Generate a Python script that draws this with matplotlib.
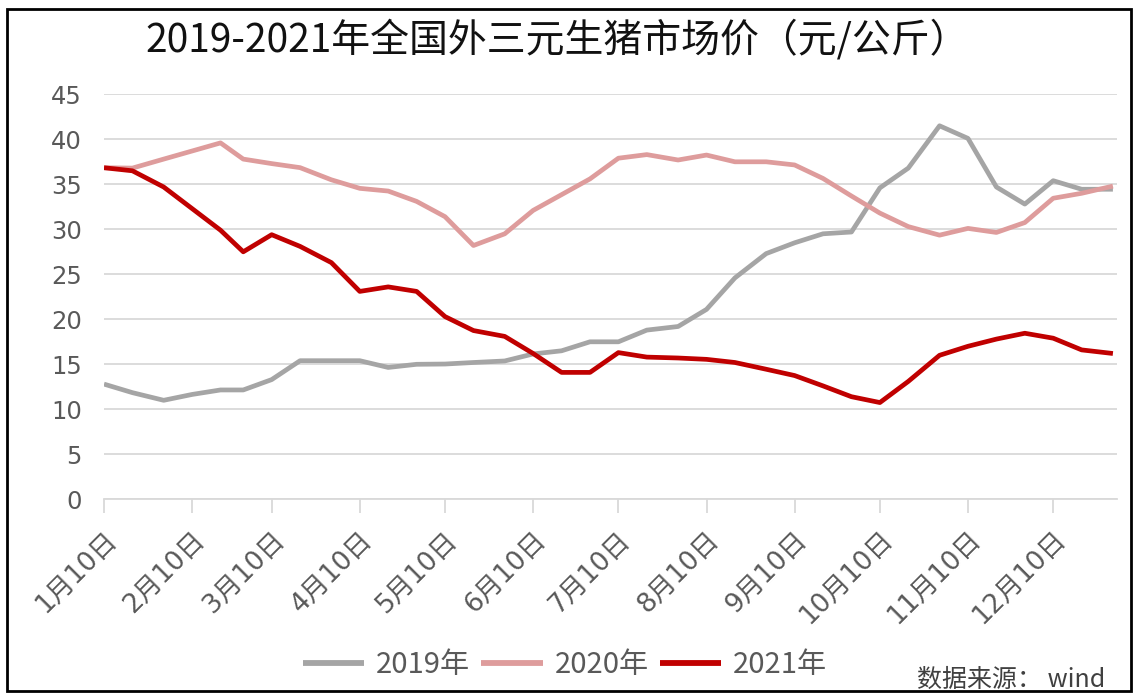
import matplotlib
matplotlib.use('Agg')
import matplotlib.pyplot as plt
from matplotlib.patches import Rectangle
import pandas as pd

# ---- data ----
dates = ["2021-01-10", "2021-01-20", "2021-01-31",
         "2021-02-10", "2021-02-20", "2021-02-28",
         "2021-03-10", "2021-03-20", "2021-03-31",
         "2021-04-10", "2021-04-20", "2021-04-30",
         "2021-05-10", "2021-05-20", "2021-05-31",
         "2021-06-10", "2021-06-20", "2021-06-30",
         "2021-07-10", "2021-07-20", "2021-07-31",
         "2021-08-10", "2021-08-20", "2021-08-31",
         "2021-09-10", "2021-09-20", "2021-09-30",
         "2021-10-10", "2021-10-20", "2021-10-31",
         "2021-11-10", "2021-11-20", "2021-11-30",
         "2021-12-10", "2021-12-20", "2021-12-31"]

price_2019 = [12.8, 11.85, 11.0, 11.65, 12.15, 12.15, 13.3, 15.4, 15.4,
              15.4, 14.65, 15.0, 15.03, 15.2, 15.37, 16.15, 16.5, 17.5,
              17.5, 18.8, 19.2, 21.1, 24.6, 27.3, 28.5, 29.5, 29.7,
              34.6, 36.8, 41.5, 40.1, 34.7, 32.8, 35.4, 34.45, 34.45]
price_2020 = [36.84, 36.8, 37.8, 38.7, 39.6, 37.8, 37.3, 36.85, 35.5,
              34.55, 34.25, 33.1, 31.4, 28.2, 29.5, 32.1, 33.85, 35.6,
              37.9, 38.3, 37.7, 38.25, 37.5, 37.5, 37.15, 35.65, 33.7,
              31.8, 30.3, 29.35, 30.1, 29.65, 30.75, 33.45, 34.0, 34.8]
price_2021 = [36.84, 36.5, 34.7, 32.3, 29.9, 27.5, 29.4, 28.1, 26.3,
              23.1, 23.6, 23.1, 20.3, 18.75, 18.1, 16.2, 14.1, 14.1,
              16.3, 15.8, 15.7, 15.55, 15.2, 14.45, 13.75, 12.6, 11.4,
              10.75, 13.1, 16.0, 17.0, 17.8, 18.45, 17.9, 16.6, 16.2]

series_names = ["2019年", "2020年", "2021年"]
tick_dates = ["2021-01-10", "2021-02-10", "2021-03-10", "2021-04-10",
              "2021-05-10", "2021-06-10", "2021-07-10", "2021-08-10",
              "2021-09-10", "2021-10-10", "2021-11-10", "2021-12-10"]
tick_labels = ["1月10日", "2月10日", "3月10日", "4月10日", "5月10日", "6月10日",
               "7月10日", "8月10日", "9月10日", "10月10日", "11月10日", "12月10日"]
y_ticks = [0, 5, 10, 15, 20, 25, 30, 35, 40, 45]

title = "2019-2021年全国外三元生猪市场价（元/公斤）"
source = "数据来源： wind"

# ---- style ----
CJK = ['Noto Sans CJK SC', 'DejaVu Sans']
LAT = ['DejaVu Sans', 'Noto Sans CJK SC']
colors = ["#A5A5A5", "#DE9C9C", "#C00000"]
W, H = 1135, 693

fig = plt.figure(figsize=(W / 100, H / 100), dpi=100)
fig.patch.set_facecolor('white')

ax_left, ax_right = 104, 1117
ax_top, ax_bottom = 94.3, 499.3
ax = fig.add_axes([ax_left / W, 1 - ax_bottom / H,
                   (ax_right - ax_left) / W, (ax_bottom - ax_top) / H])

x = pd.to_datetime(dates)
for vals, c, name in zip([price_2019, price_2020, price_2021], colors, series_names):
    ax.plot(x, vals, color=c, lw=3.4, label=name, solid_joinstyle='round',
            solid_capstyle='butt')

x0 = pd.Timestamp("2021-01-10")
ax.set_xlim(x0, x0 + pd.Timedelta(days=(ax_right - ax_left) / 2.842))
ax.set_ylim(0, 45)

ax.set_yticks(y_ticks)
ax.set_yticklabels([str(v) for v in y_ticks], family=LAT, fontsize=17.5, color='#595959')
ax.tick_params(axis='y', length=0, pad=16)
ax.yaxis.grid(True, color='#D9D9D9', lw=1.3)
ax.set_axisbelow(True)

ax.set_xticks(pd.to_datetime(tick_dates))
ax.set_xticklabels(tick_labels, family=LAT, fontsize=19, color='#595959',
                   rotation=45, ha='right', va='top', rotation_mode='anchor')
ax.tick_params(axis='x', length=10, width=1.3, color='#D9D9D9', pad=10)

for s in ['top', 'right', 'left']:
    ax.spines[s].set_visible(False)
ax.spines['bottom'].set_color('#D9D9D9')
ax.spines['bottom'].set_linewidth(1.3)

fig.text(557 / W, 1 - 40 / H, title, family=CJK, fontsize=28, color='#111111',
         ha='center', va='center')

leg = fig.legend(loc='center', bbox_to_anchor=(565 / W, 1 - 665 / H), ncol=3,
                 frameon=False, prop={'family': CJK, 'size': 21},
                 handlelength=2.1, handletextpad=0.4, columnspacing=0.4)
for t in leg.get_texts():
    t.set_color('#595959')
for l in leg.get_lines():
    l.set_linewidth(4.2)

fig.text(1105 / W, 1 - 680 / H, source, family=CJK, fontsize=18, color='#404040',
         ha='right', va='center')

fig.patches.append(Rectangle((7 / W, 1 - 691 / H), (1131 - 7) / W, (691 - 9) / H,
                             transform=fig.transFigure, fill=False,
                             edgecolor='black', lw=2))

fig.savefig('out.png', dpi=100)
